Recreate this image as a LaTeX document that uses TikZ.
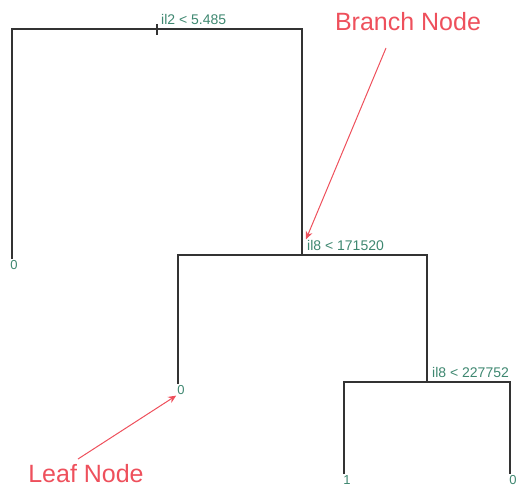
\documentclass[tikz,border=0pt]{standalone}
\usepackage{fontspec}
\setmainfont{Liberation Sans}
\usetikzlibrary{positioning, calc, arrows.meta}
\definecolor{splitgreen}{RGB}{62,135,112}
\definecolor{notered}{RGB}{238,80,92}
\tikzset{
  branch/.style={line width=1.6pt, draw=black!80},
  splitlabel/.style={text=splitgreen, font=\fontsize{14}{14}\selectfont, inner sep=1pt},
  leaflabel/.style={text=splitgreen, font=\fontsize{13}{13}\selectfont, inner sep=1pt},
  note/.style={text=notered, font=\fontsize{25}{25}\selectfont, inner sep=0pt},
  pointer/.style={draw=notered, line width=1pt, -{Stealth[length=8pt,width=7pt]}}
}
\begin{document}
\begin{tikzpicture}[x=1pt,y=-1pt]
            \useasboundingbox (0,0) rectangle (521,489);

            % Splits
            \coordinate (rootL) at (12,29);
            \coordinate (rootR) at (302,29);
            \coordinate (midL) at (178,255);
            \coordinate (midR) at (427,255);
            \coordinate (lowL) at (344,382);
            \coordinate (lowR) at (510,382);

            % Leaves
            \node[leaflabel, anchor=north] (leafA) at (14,259) {0};
            \node[leaflabel, anchor=north] (leafB) at (181,384) {0};
            \node[leaflabel, anchor=north] (leafC) at (347,474) {1};
            \node[leaflabel, anchor=north] (leafD) at (513,474) {0};

            % Tree
            \draw[branch] (leafA.north -| rootL) -- (rootL) -- (rootR) -- (rootR |- midL);
            \draw[branch] (leafB.north -| midL) -- (midL) -- (midR) -- (midR |- lowR);
            \draw[branch] (leafC.north -| lowL) -- (lowL) -- (lowR) -- (leafD.north -| lowR);
            \draw[branch] (157,24) -- (157,35);

            % Split labels
            \node[splitlabel, anchor=south west] (splitA) at (160,26) {il2 < 5.485};
            \node[splitlabel, anchor=south west] (splitB) at (306,252) {il8 < 171520};
            \node[splitlabel, anchor=south west] (splitC) at (431,379) {il8 < 227752};

            % Notes
            \node[note] (branchnote) at (408,22) {Branch Node};
            \node[note] (leafnote) at (86,474) {Leaf Node};
            \draw[pointer] (386,48) -- (splitB.north west);
            \draw[pointer] (78,459) -- (leafB.south west);
\end{tikzpicture}
\end{document}
